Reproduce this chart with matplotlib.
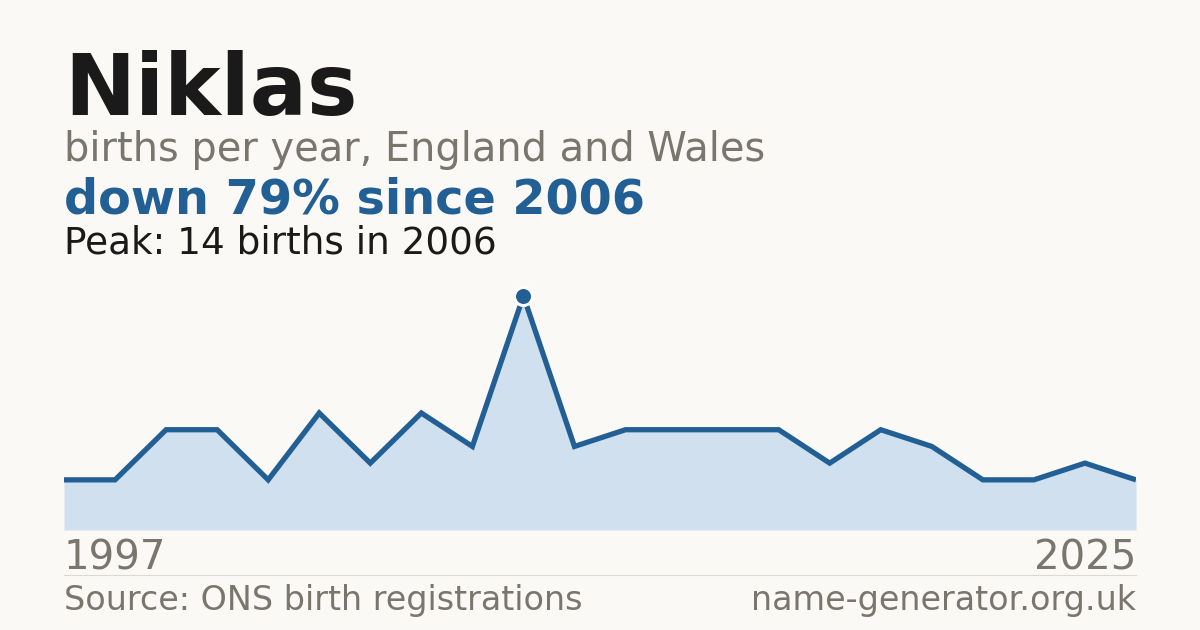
import matplotlib
matplotlib.use("Agg")
import matplotlib.pyplot as plt
from matplotlib.lines import Line2D

# Data
births = [3, 3, 6, 6, 3, 7, 4, 7, 5, 14, 5, 6, 6, 6, 6, 4, 6, 5, 3, 3, 4, 3]
first_year = "1997"
last_year = "2025"
peak_index = 9

name = "Niklas"
subtitle = "births per year, England and Wales"
headline = "down 79% since 2006"
peak_text = "Peak: 14 births in 2006"
source = "Source: ONS birth registrations"
site = "name-generator.org.uk"

BG = "#faf9f5"
LINE = "#215f95"
FILL = "#d0e0ef"
GREY = "#7a756d"
DARK = "#1a1a1a"

W, H = 1200, 630
fig = plt.figure(figsize=(W / 100, H / 100), dpi=100, facecolor=BG)

def px(x, y):
    return x / W, 1 - y / H

left, right, bottom_px, top_px = 64, 1136, 530, 296
ax = fig.add_axes([left / W, 1 - bottom_px / H, (right - left) / W, (bottom_px - top_px) / H])
ax.set_facecolor(BG)
xs = list(range(len(births)))
ax.fill_between(xs, births, 0, color=FILL, lw=0)
ax.plot(xs, births, color=LINE, lw=3.8, solid_joinstyle="miter", solid_capstyle="butt")
ax.plot([peak_index], [births[peak_index]], marker="o", ms=13, color=LINE,
        mec="white", mew=2.2, clip_on=False, zorder=5)
ax.set_xlim(0, len(births) - 1)
ax.set_ylim(0, max(births))
ax.axis("off")

def t(x, y, s, size, color, weight="normal", ha="left"):
    fig.text(*px(x, y), s, fontsize=size, color=color, fontweight=weight,
             ha=ha, va="baseline", family="DejaVu Sans")

t(64, 115, name, 61.2, DARK, "bold")
t(64, 161, subtitle, 28.7, GREY)
t(64, 214, headline, 34.4, LINE, "bold")
t(64, 254, peak_text, 26.9, DARK)
t(64, 569, first_year, 29, GREY)
t(1136, 569, last_year, 29, GREY, ha="right")
t(64, 610, source, 24, GREY)
t(1136, 610, site, 24, GREY, ha="right")

fig.add_artist(Line2D([64 / W, 1136 / W], [1 - 574.5 / H] * 2, color="#dcd9d2", lw=0.8))

fig.savefig("out.png", dpi=100, facecolor=BG)
